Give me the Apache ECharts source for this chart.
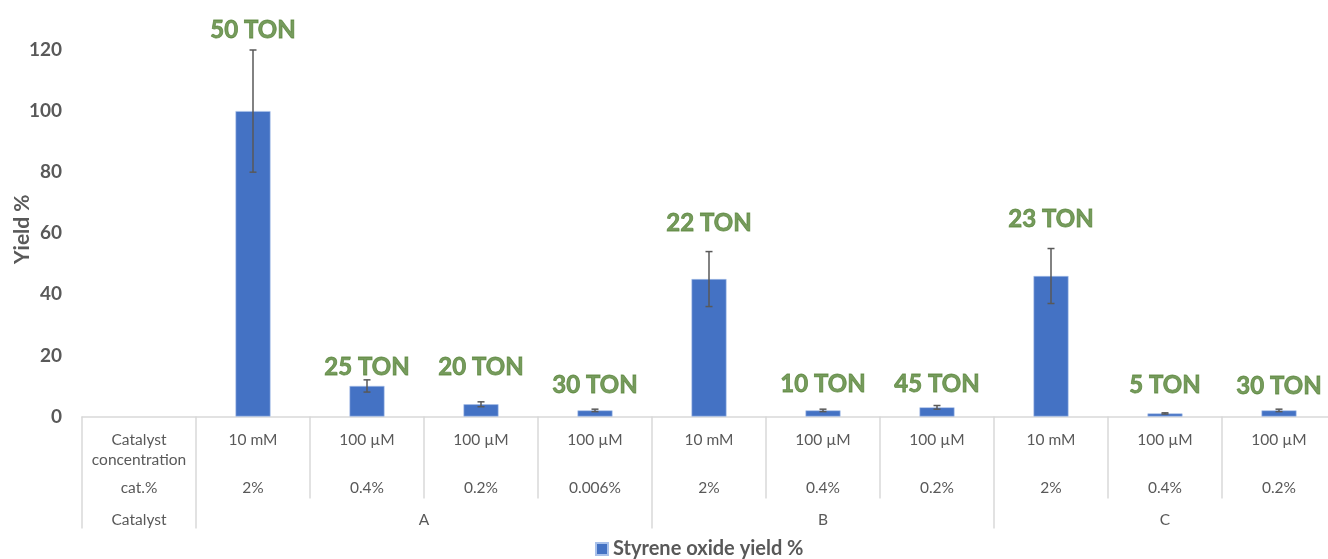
<!DOCTYPE html>
<html>
<head>
<meta charset="utf-8">
<script src="https://cdn.jsdelivr.net/npm/echarts@6/dist/echarts.min.js"></script>
<style>
html,body{margin:0;padding:0;background:#fff;}
#chart{width:1328px;height:559px;}
</style>
</head>
<body>
<div id="chart"></div>
<script>
// ---- data ----
const concentrations = ['Catalyst\nconcentration','10 mM','100 µM','100 µM','100 µM','10 mM','100 µM','100 µM','10 mM','100 µM','100 µM'];
const catPercent = ['cat.%','2%','0.4%','0.2%','0.006%','2%','0.4%','0.2%','2%','0.4%','0.2%'];
const catalystGroups = ['Catalyst','A','B','C'];
const catalystGroupSpans = [1,4,3,3];
const yieldValues = [null,100,10,4,2,45,2,3,46,1,2];
const yieldErrors = [null,20,2,0.8,0.4,9,0.4,0.6,9,0.2,0.4];
const tonLabels = ['','50 TON','25 TON','20 TON','30 TON','22 TON','10 TON','45 TON','23 TON','5 TON','30 TON'];
const tonLabelAt = [null,126.5,16.2,16.2,10.3,63.3,10.6,10.6,64.6,10.3,10];
const yTicks = [0,20,40,60,80,100,120];
const seriesName = 'Styrene oxide yield %';

// ---- derived ----
const boundaries = [0];
catalystGroupSpans.forEach(s => boundaries.push(boundaries[boundaries.length-1] + s));
const groupCenters = catalystGroupSpans.map((s, i) => boundaries[i] + s / 2);
const errData = [];
yieldValues.forEach((v, i) => { if (v != null) errData.push([i, v - yieldErrors[i], v + yieldErrors[i]]); });
const labelData = [];
tonLabelAt.forEach((y, i) => { if (y != null) labelData.push({ value: [i, y], name: tonLabels[i] }); });

const FONT = 'Lato, "Liberation Sans", sans-serif';
const GRAY = '#595959';
const LINE = '#d9d9d9';
const GREEN = '#548235';
const nCat = concentrations.length;

const chart = echarts.init(document.getElementById('chart'), null, { renderer: 'canvas' });
chart.setOption({
  animation: false,
  textStyle: { fontFamily: FONT },
  grid: { left: 82, top: 50, width: 114 * nCat, height: 366.5, containLabel: false, outerBoundsMode: 'none' },
  legend: {
    data: [seriesName],
    bottom: -5,
    left: 590,
    icon: 'rect',
    itemWidth: 12,
    itemHeight: 12,
    itemGap: 5,
    textStyle: { fontFamily: FONT, fontSize: 20, fontWeight: 'bold', color: GRAY }
  },
  xAxis: [
    {
      type: 'category',
      data: concentrations,
      position: 'bottom',
      boundaryGap: true,
      axisLine: { show: true, lineStyle: { color: LINE, width: 1.5 } },
      axisTick: { show: true, interval: 0, length: 82, alignWithLabel: false, lineStyle: { color: LINE, width: 1.5 } },
      axisLabel: { interval: 0, margin: 13, fontSize: 15.5, lineHeight: 20, color: GRAY, fontFamily: FONT },
      splitLine: { show: false }
    },
    {
      type: 'category',
      data: catPercent,
      position: 'bottom',
      offset: 0,
      axisLine: { show: false },
      axisTick: { show: false },
      axisLabel: { interval: 0, margin: 63, fontSize: 15.5, color: GRAY, fontFamily: FONT },
      splitLine: { show: false }
    },
    {
      type: 'value',
      position: 'bottom',
      min: 0,
      max: nCat,
      offset: 81,
      axisLine: { show: false },
      axisTick: { show: true, length: 31, customValues: boundaries.slice(0, -1), lineStyle: { color: LINE, width: 1.5 } },
      axisLabel: {
        customValues: groupCenters,
        margin: 14,
        fontSize: 15.5,
        color: GRAY,
        fontFamily: FONT,
        formatter: v => {
          const k = groupCenters.findIndex(c => Math.abs(c - v) < 1e-6);
          return k >= 0 ? catalystGroups[k] : '';
        }
      },
      splitLine: { show: false }
    }
  ],
  yAxis: {
    type: 'value',
    min: 0,
    max: 120,
    interval: 20,
    name: 'Yield %',
    nameLocation: 'middle',
    nameRotate: 90,
    nameGap: 49,
    nameMoveOverlap: false,
    nameTextStyle: { fontFamily: FONT, fontSize: 21, fontWeight: 'bold', color: GRAY, padding: [0, 0, 0, 8] },
    axisLine: { show: false },
    axisTick: { show: false },
    splitLine: { show: false },
    axisLabel: { margin: 20, fontSize: 19, fontWeight: 'bold', color: GRAY, fontFamily: FONT,
      formatter: v => yTicks.includes(v) ? String(v) : '' }
  },
  series: [
    {
      name: seriesName,
      type: 'bar',
      xAxisIndex: 0,
      yAxisIndex: 0,
      data: yieldValues.map(v => v == null ? '-' : v),
      barWidth: 35,
      itemStyle: { color: '#4472C4', borderColor: '#a9c1ea', borderWidth: 0.6 },
      z: 2
    },
    {
      name: 'err',
      type: 'custom',
      xAxisIndex: 0,
      yAxisIndex: 0,
      data: errData,
      encode: { x: 0, y: [1, 2] },
      z: 5,
      clip: false,
      renderItem: (params, api) => {
        const i = api.value(0);
        const lo = api.coord([i, api.value(1)]);
        const hi = api.coord([i, api.value(2)]);
        const w = 3.5;
        const st = { stroke: '#595959', lineWidth: 1.5 };
        return {
          type: 'group',
          children: [
            { type: 'line', shape: { x1: lo[0], y1: lo[1], x2: hi[0], y2: hi[1] }, style: st },
            { type: 'line', shape: { x1: hi[0] - w, y1: hi[1], x2: hi[0] + w, y2: hi[1] }, style: st },
            { type: 'line', shape: { x1: lo[0] - w, y1: lo[1], x2: lo[0] + w, y2: lo[1] }, style: st }
          ]
        };
      }
    },
    {
      name: 'ton',
      type: 'scatter',
      xAxisIndex: 0,
      yAxisIndex: 0,
      data: labelData,
      symbolSize: 0,
      silent: true,
      clip: false,
      z: 6,
      label: {
        show: true,
        position: 'inside',
        formatter: p => p.name,
        fontFamily: FONT,
        fontSize: 24,
        fontWeight: 'bold',
        color: GREEN,
        textBorderColor: GREEN,
        textBorderWidth: 0.8
      }
    }
  ]
});
</script>
</body>
</html>
